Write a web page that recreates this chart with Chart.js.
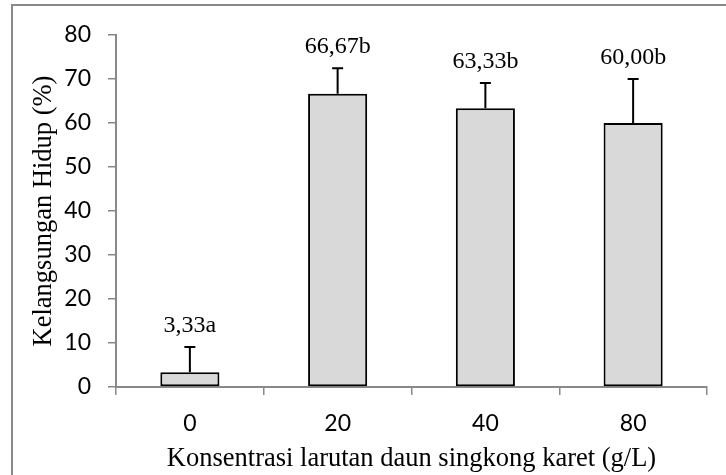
<!DOCTYPE html>
<html><head><meta charset="utf-8">
<script src="https://cdn.jsdelivr.net/npm/chart.js@4"></script>
<style>html,body{margin:0;padding:0;background:#fff}</style>
</head><body>
<canvas id="c" width="726" height="475"></canvas>
<script>
const categories = ["0", "20", "40", "80"];
const survival = [3.33, 66.67, 63.33, 60.00];
const errors = [5.77, 5.77, 5.77, 10.0];
const valueLabels = ["3,33a", "66,67b", "63,33b", "60,00b"];
const yMin = 0, yMax = 80, yStep = 10;
const xTitle = "Konsentrasi larutan daun singkong karet (g/L)";
const yTitle = "Kelangsungan Hidup (%)";

const axisGray = '#898989';

const framePlugin = {
  id: 'frame',
  beforeDraw(chart) {
    const ctx = chart.ctx;
    ctx.save();
    ctx.fillStyle = '#fff';
    ctx.fillRect(0, 0, chart.width, chart.height);
    ctx.strokeStyle = axisGray;
    ctx.lineWidth = 2;
    ctx.strokeRect(12, 5, chart.width + 20, chart.height + 20);
    ctx.restore();
  }
};

const errorPlugin = {
  id: 'errbars',
  afterDatasetsDraw(chart) {
    const ctx = chart.ctx;
    const meta = chart.getDatasetMeta(0);
    const ys = chart.scales.y;
    ctx.save();
    meta.data.forEach((bar, i) => {
      const top = ys.getPixelForValue(survival[i] + errors[i]);
      ctx.strokeStyle = '#000';
      ctx.lineWidth = 2;
      ctx.beginPath();
      ctx.moveTo(bar.x, bar.y);
      ctx.lineTo(bar.x, top);
      ctx.moveTo(bar.x - 5.5, top);
      ctx.lineTo(bar.x + 5.5, top);
      ctx.stroke();
      ctx.fillStyle = '#000';
      ctx.font = '24px "Liberation Serif"';
      ctx.textAlign = 'center';
      ctx.textBaseline = 'alphabetic';
      ctx.fillText(valueLabels[i], bar.x, top - 15);
    });
    ctx.restore();
  }
};

new Chart(document.getElementById('c'), {
  type: 'bar',
  data: {
    labels: categories,
    datasets: [{
      data: survival,
      backgroundColor: '#d9d9d9',
      borderColor: '#000',
      borderWidth: 2,
      borderSkipped: false,
      barPercentage: 0.4,
      categoryPercentage: 1.0
    }]
  },
  options: {
    responsive: false,
    animation: false,
    devicePixelRatio: 1,
    layout: { padding: { left: 20, top: 35, right: 19, bottom: 0 } },
    plugins: { legend: { display: false }, tooltip: { enabled: false } },
    scales: {
      x: {
        grid: { offset: true, drawOnChartArea: false, tickLength: 8, color: axisGray, lineWidth: 1.5 },
        border: { color: axisGray, width: 2 },
        ticks: { font: { family: 'Lato', size: 23 }, color: '#000', padding: 15 },
        title: { display: true, text: xTitle, color: '#000',
          font: { family: 'Liberation Serif', size: 26.5 }, padding: { top: 0, bottom: 0 } },
        afterFit(s) { s.height = 88; }
      },
      y: {
        min: yMin, max: yMax,
        grid: { drawOnChartArea: false, tickLength: 8, color: axisGray, lineWidth: 1.5 },
        border: { color: axisGray, width: 2 },
        ticks: { stepSize: yStep, font: { family: 'Lato', size: 23 }, color: '#000', padding: 17 },
        title: { display: true, text: yTitle, color: '#000',
          font: { family: 'Liberation Serif', size: 26.5 }, padding: { top: 8, bottom: 0 } },
        afterFit(s) { s.width = 96; }
      }
    }
  },
  plugins: [framePlugin, errorPlugin]
});
</script>
</body></html>
